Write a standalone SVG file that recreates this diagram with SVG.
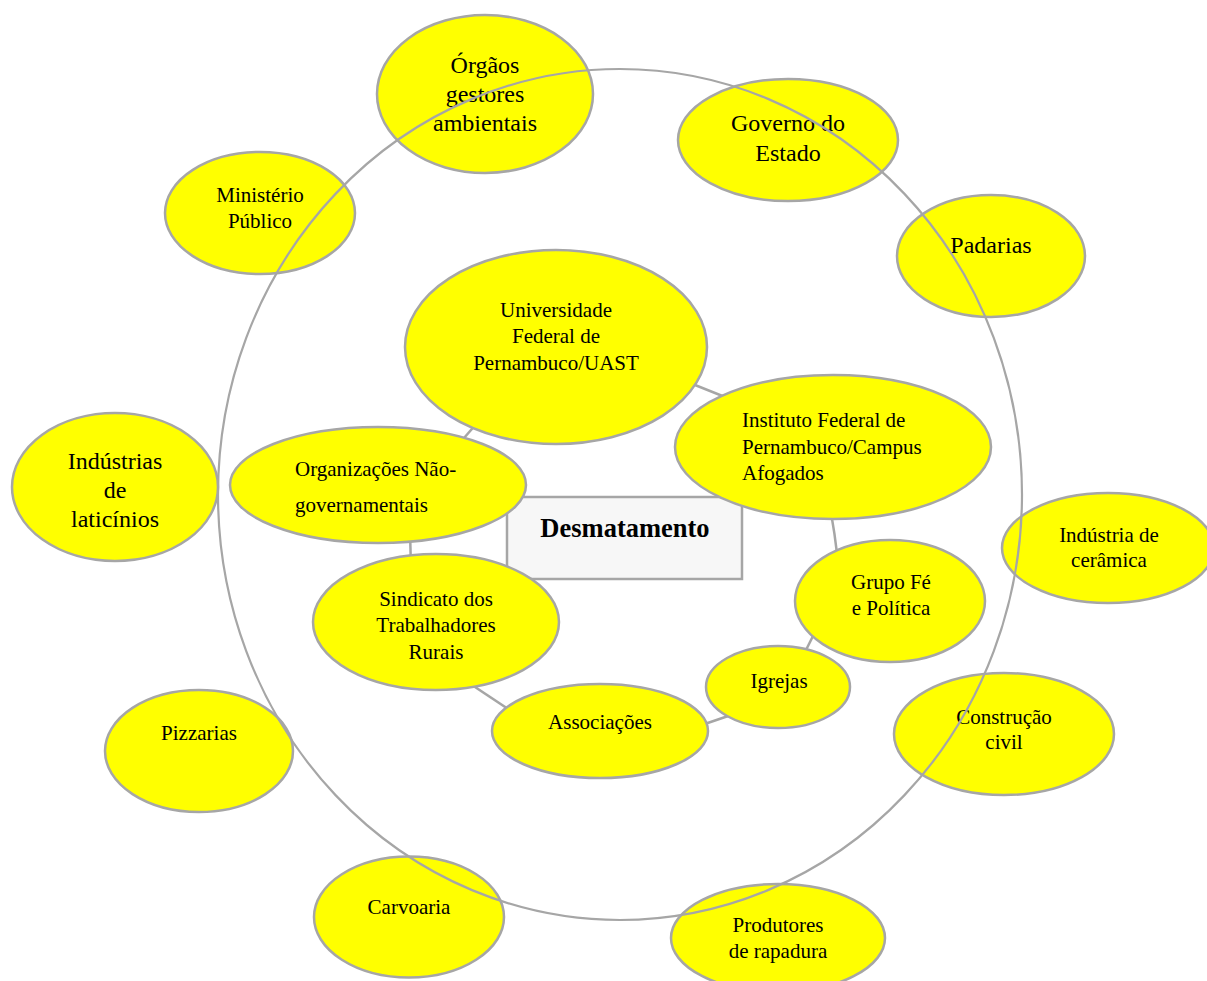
<svg xmlns="http://www.w3.org/2000/svg" width="1207" height="981" viewBox="0 0 1207 981">
<style>
.n{fill:#FFFF00;stroke:#A6A6A6;stroke-width:2.5}
.t{font-family:"Liberation Serif","Times New Roman",serif;font-size:21px;fill:#000;text-anchor:middle}
.L{font-size:24px}
.D{font-size:26.5px;font-weight:bold}
.l{text-anchor:start}
.c{stroke:#A6A6A6;stroke-width:2.5;fill:none}
.ring{stroke:#A6A6A6;stroke-width:2.2;fill:none}
</style>
<rect width="1207" height="981" fill="#FFFFFF"/>
<g id="connectors">
<line class="c" x1="450" y1="454" x2="485" y2="414"/>
<line class="c" x1="680" y1="379" x2="735" y2="401"/>
<path class="c" d="M829,505 Q835,530 838,565"/>
<line class="c" x1="800" y1="662" x2="820" y2="622"/>
<line class="c" x1="690" y1="729" x2="740" y2="712"/>
<line class="c" x1="460" y1="677" x2="520" y2="717"/>
<line class="c" x1="410" y1="530" x2="411" y2="570"/>
</g>
<g id="desmatamento">
<rect x="507" y="497" width="235" height="82" fill="#F7F7F7" stroke="#A6A6A6" stroke-width="2.5"/>
<text class="t D" x="625" y="537">Desmatamento</text>
</g>
<g id="ufpe">
<ellipse class="n" cx="556" cy="347" rx="151" ry="97"/>
<text class="t" x="556" y="317">Universidade</text>
<text class="t" x="556" y="343">Federal de</text>
<text class="t" x="556" y="370">Pernambuco/UAST</text>
</g>
<g id="ifpe">
<ellipse class="n" cx="833" cy="447" rx="158" ry="72"/>
<text class="t l" x="742" y="427">Instituto Federal de</text>
<text class="t l" x="742" y="454">Pernambuco/Campus</text>
<text class="t l" x="742" y="480">Afogados</text>
</g>
<g id="ong">
<ellipse class="n" cx="378" cy="485" rx="148" ry="58"/>
<text class="t l" x="295" y="476">Organizações Não-</text>
<text class="t l" x="295" y="512">governamentais</text>
</g>
<g id="sindicato">
<ellipse class="n" cx="436" cy="622" rx="123" ry="68"/>
<text class="t" x="436" y="606">Sindicato dos</text>
<text class="t" x="436" y="632">Trabalhadores</text>
<text class="t" x="436" y="659">Rurais</text>
</g>
<g id="associacoes">
<ellipse class="n" cx="600" cy="731" rx="108" ry="47"/>
<text class="t" x="600" y="729">Associações</text>
</g>
<g id="igrejas">
<ellipse class="n" cx="778" cy="687" rx="72" ry="41"/>
<text class="t" x="779" y="688">Igrejas</text>
</g>
<g id="grupo-fe">
<ellipse class="n" cx="890" cy="601" rx="95" ry="61"/>
<text class="t" x="891" y="589">Grupo Fé</text>
<text class="t" x="891" y="615">e Política</text>
</g>
<g id="orgaos">
<ellipse class="n" cx="485" cy="94" rx="108" ry="79"/>
<text class="t L" x="485" y="73">Órgãos</text>
<text class="t L" x="485" y="102">gestores</text>
<text class="t L" x="485" y="131">ambientais</text>
</g>
<g id="governo">
<ellipse class="n" cx="788" cy="140" rx="110" ry="61"/>
<text class="t L" x="788" y="131">Governo do</text>
<text class="t L" x="788" y="161">Estado</text>
</g>
<g id="padarias">
<ellipse class="n" cx="991" cy="256" rx="94" ry="61"/>
<text class="t L" x="991" y="253">Padarias</text>
</g>
<g id="ministerio">
<ellipse class="n" cx="260" cy="213" rx="95" ry="61"/>
<text class="t" x="260" y="202">Ministério</text>
<text class="t" x="260" y="228">Público</text>
</g>
<g id="laticinios">
<ellipse class="n" cx="115" cy="487" rx="103" ry="74"/>
<text class="t L" x="115" y="469">Indústrias</text>
<text class="t L" x="115" y="498">de</text>
<text class="t L" x="115" y="527">laticínios</text>
</g>
<g id="pizzarias">
<ellipse class="n" cx="199" cy="751" rx="94" ry="61"/>
<text class="t" x="199" y="740">Pizzarias</text>
</g>
<g id="carvoaria">
<ellipse class="n" cx="409" cy="917" rx="95" ry="60.5"/>
<text class="t" x="409" y="914">Carvoaria</text>
</g>
<g id="produtores">
<ellipse class="n" cx="778" cy="938" rx="107" ry="54"/>
<text class="t" x="778" y="932">Produtores</text>
<text class="t" x="778" y="958">de rapadura</text>
</g>
<g id="construcao">
<ellipse class="n" cx="1004" cy="734" rx="110" ry="61"/>
<text class="t" x="1004" y="724">Construção</text>
<text class="t" x="1004" y="749">civil</text>
</g>
<g id="ceramica">
<ellipse class="n" cx="1108" cy="548" rx="106" ry="55"/>
<text class="t" x="1109" y="542">Indústria de</text>
<text class="t" x="1109" y="567">cerâmica</text>
</g>
<g id="outer-ring">
<ellipse class="ring" cx="620" cy="494.5" rx="402" ry="425.5"/>
</g>
</svg>
